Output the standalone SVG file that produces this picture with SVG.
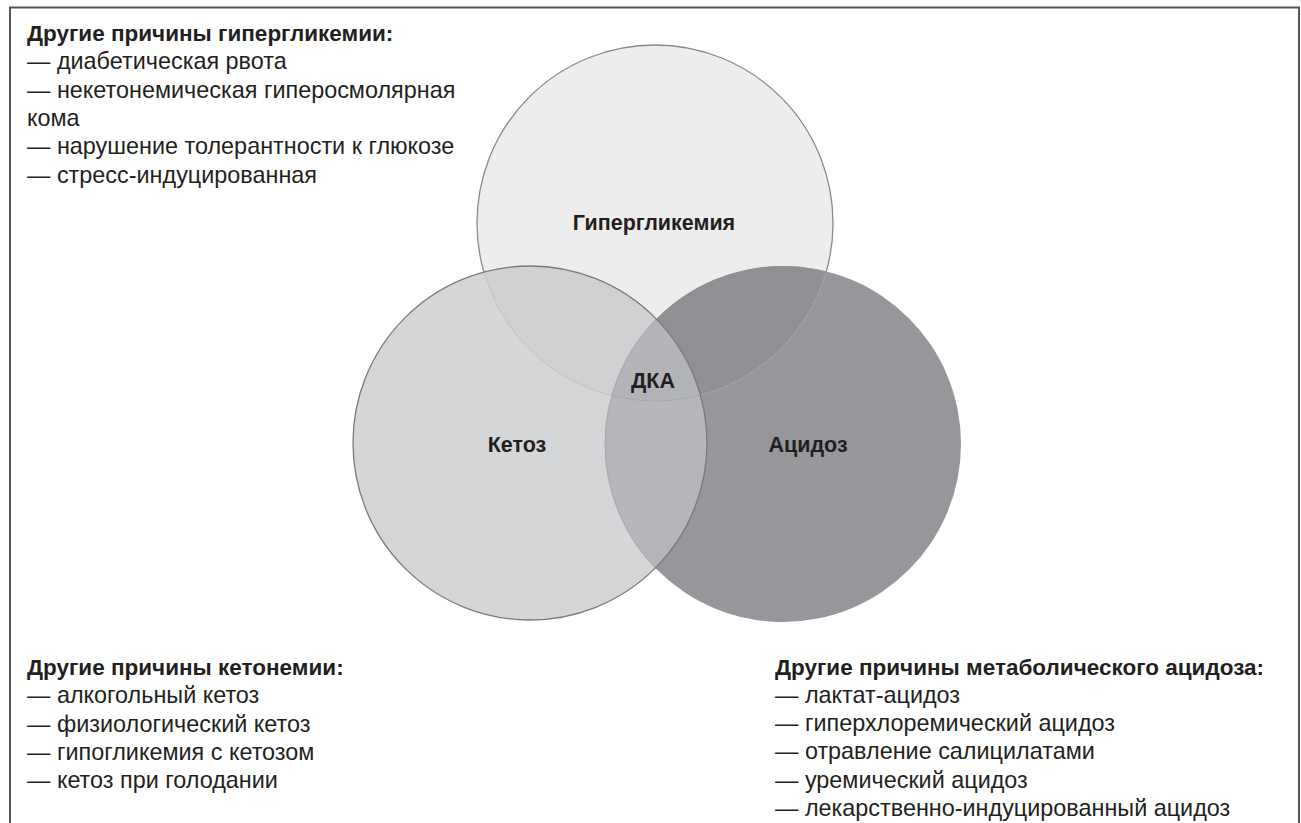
<svg xmlns="http://www.w3.org/2000/svg" width="1301" height="823" viewBox="0 0 1301 823">
<style>
text{font-family:"Liberation Sans",Arial,sans-serif;fill:#231f20}
.h{font-weight:bold;font-size:22.5px}
.t{font-size:23.4px}
.lbl{font-weight:bold;font-size:21.5px;text-anchor:middle}
</style>
<defs>
<clipPath id="cH"><circle cx="655" cy="223" r="178"/></clipPath>
<clipPath id="cK"><circle cx="530" cy="443" r="177"/></clipPath>
<clipPath id="cA"><circle cx="783" cy="444" r="178"/></clipPath>
</defs>
<rect width="1301" height="823" fill="#fff"/>
<path d="M10,830 V7.5 H1299 V830" fill="none" stroke="#555" stroke-width="2"/>
<g id="hyperglycemia">
<circle cx="655" cy="223" r="178" fill="#ededed" stroke="#8a8a8a" stroke-width="1.3"/>
</g>
<g id="ketosis">
<circle cx="530" cy="443" r="177" fill="#d5d6d8"/>
</g>
<g id="acidosis">
<circle cx="783" cy="444" r="178" fill="#96979a"/>
</g>
<g id="overlaps">
<g clip-path="url(#cH)"><circle cx="530" cy="443" r="177" fill="#d0d1d3"/><circle cx="783" cy="444" r="178" fill="#8f9094"/></g>
<g clip-path="url(#cK)"><circle cx="783" cy="444" r="178" fill="#b5b6b9"/></g>
<g clip-path="url(#cK)"><g clip-path="url(#cH)"><circle cx="783" cy="444" r="178" fill="#b3b4b7"/></g></g>
<g fill="none" stroke-width="1">
<circle cx="655" cy="223" r="178" stroke="#c2c3c5" clip-path="url(#cK)"/>
<circle cx="655" cy="223" r="178" stroke="#a4a5a8" clip-path="url(#cA)"/>
<circle cx="783" cy="444" r="178" stroke="#a9aaad" clip-path="url(#cK)"/>
</g>
<circle cx="530" cy="443" r="177" fill="none" stroke="#7a7a7a" stroke-width="1.3"/>
</g>
<g id="labels">
<text class="lbl" x="654" y="230">Гипергликемия</text>
<text class="lbl" x="653" y="388">ДКА</text>
<text class="lbl" x="517" y="452">Кетоз</text>
<text class="lbl" x="808" y="452">Ацидоз</text>
</g>
<g id="note-hyperglycemia">
<text class="h" x="27" y="41">Другие причины гипергликемии:</text>
<text class="t" x="27" y="69.3">— диабетическая рвота</text>
<text class="t" x="27" y="97.6">— некетонемическая гиперосмолярная</text>
<text class="t" x="27" y="125.9">кома</text>
<text class="t" x="27" y="154.2">— нарушение толерантности к глюкозе</text>
<text class="t" x="27" y="182.5">— стресс-индуцированная</text>
</g>
<g id="note-ketonemia">
<text class="h" x="27" y="675">Другие причины кетонемии:</text>
<text class="t" x="27" y="703.3">— алкогольный кетоз</text>
<text class="t" x="27" y="731.6">— физиологический кетоз</text>
<text class="t" x="27" y="759.9">— гипогликемия с кетозом</text>
<text class="t" x="27" y="788.2">— кетоз при голодании</text>
</g>
<g id="note-acidosis">
<text class="h" x="775" y="674.5">Другие причины метаболического ацидоза:</text>
<text class="t" x="775" y="702.8">— лактат-ацидоз</text>
<text class="t" x="775" y="731.1">— гиперхлоремический ацидоз</text>
<text class="t" x="775" y="759.4">— отравление салицилатами</text>
<text class="t" x="775" y="787.7">— уремический ацидоз</text>
<text class="t" x="775" y="816">— лекарственно-индуцированный ацидоз</text>
</g>
<g id="connectors"/>
</svg>
